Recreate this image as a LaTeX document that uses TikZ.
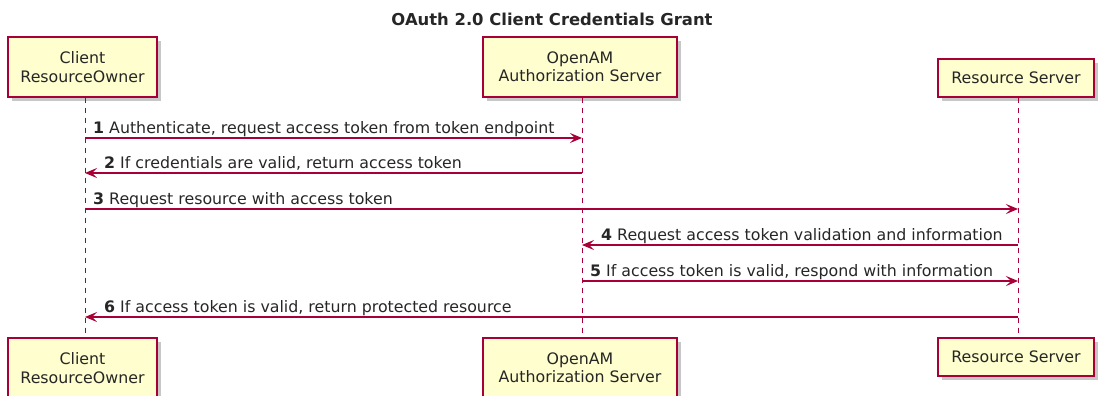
\documentclass[tikz,border=0pt]{standalone}
\usepackage{fontspec}
\setmainfont{DejaVu Sans}
\usetikzlibrary{arrows.meta,shadows}
\definecolor{umlred}{HTML}{A80036}
\definecolor{umlfill}{HTML}{FEFECE}
\begin{document}
\begin{tikzpicture}[
    x=1pt, y=-1pt,
    every node/.style={font=\fontsize{15.8}{18.4}\selectfont, inner sep=0pt, text=black!85},
    part/.style={rectangle, draw=umlred, line width=1.1pt, fill=umlfill, align=center,
        drop shadow={shadow xshift=4pt, shadow yshift=-4pt, fill=black, opacity=0.22}},
    life/.style={draw=umlred, line width=1pt, dash pattern=on 5pt off 5pt},
    msg/.style={draw=umlred, line width=1.1pt, -{Stealth[length=12pt,width=10pt,inset=5pt]}},
    lbl/.style={anchor=base west}
]
\useasboundingbox (0,0) rectangle (1098,396);

\node[font=\bfseries\fontsize{16.4}{20}\selectfont] (title) at (552,19) {OAuth 2.0 Client Credentials Grant};

% participants, top and bottom
\node[part, minimum width=149pt, minimum height=60pt] (cl) at (82.5,67) {Client\\ResourceOwner};
\node[part, minimum width=194pt, minimum height=60pt] (am) at (580,67) {OpenAM\\Authorization Server};
\node[part, minimum width=156pt, minimum height=38pt] (rs) at (1016,78) {Resource Server};

\node[part, minimum width=149pt, minimum height=60pt] (clb) at (82.5,368) {Client\\ResourceOwner};
\node[part, minimum width=194pt, minimum height=60pt] (amb) at (580,368) {OpenAM\\Authorization Server};
\node[part, minimum width=156pt, minimum height=38pt] (rsb) at (1016,357) {Resource Server};

% lifelines
\coordinate (lcl) at ([xshift=2.5pt]cl.south);
\coordinate (lam) at ([xshift=2pt]am.south);
\coordinate (lrs) at ([xshift=2pt]rs.south);
\draw[life] (lcl) -- (lcl |- clb.north);
\draw[life] (lam) -- (lam |- amb.north);
\draw[life] (lrs) -- (lrs |- rsb.north);

% messages
\draw[msg] (lcl |- 0,138) -- (lam |- 0,138);
\node[lbl] (m1) at (93,133) {\textbf{1} Authenticate, request access token from token endpoint};

\draw[msg] (lam |- 0,173) -- (lcl |- 0,173);
\node[lbl] (m2) at (104,168) {\textbf{2} If credentials are valid, return access token};

\draw[msg] (lcl |- 0,209) -- (lrs |- 0,209);
\node[lbl] (m3) at (93,204) {\textbf{3} Request resource with access token};

\draw[msg] (lrs |- 0,245) -- (lam |- 0,245);
\node[lbl] (m4) at (601,240) {\textbf{4} Request access token validation and information};

\draw[msg] (lam |- 0,281) -- (lrs |- 0,281);
\node[lbl] (m5) at (590,276) {\textbf{5} If access token is valid, respond with information};

\draw[msg] (lrs |- 0,317) -- (lcl |- 0,317);
\node[lbl] (m6) at (104,312) {\textbf{6} If access token is valid, return protected resource};

\end{tikzpicture}
\end{document}
